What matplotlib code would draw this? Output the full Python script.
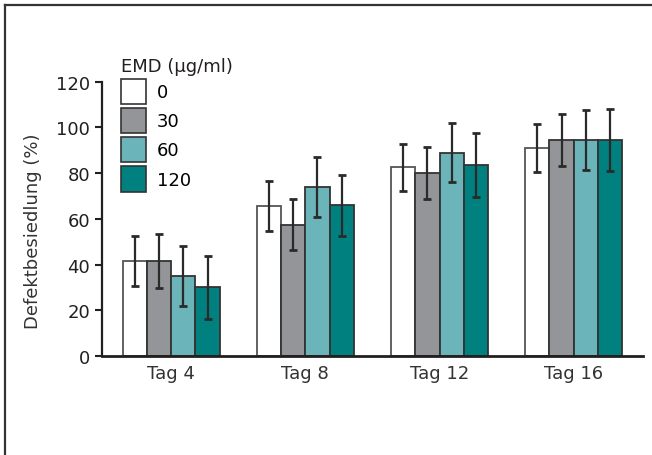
import matplotlib
matplotlib.use("Agg")
import matplotlib.pyplot as plt
from matplotlib.patches import Patch
from matplotlib.lines import Line2D
import numpy as np

days = ["Tag 4", "Tag 8", "Tag 12", "Tag 16"]
doses = ["0", "30", "60", "120"]

# mean defect colonisation (%) per dose, one list per dose
mean_0 = [41.5, 65.5, 82.5, 91.0]
mean_30 = [41.5, 57.5, 80.0, 94.5]
mean_60 = [35.0, 74.0, 89.0, 94.5]
mean_120 = [30.0, 66.0, 83.5, 94.5]

err_0 = [11.0, 11.0, 10.3, 10.3]
err_30 = [11.7, 11.3, 11.4, 11.3]
err_60 = [13.0, 13.0, 13.0, 13.0]
err_120 = [13.7, 13.4, 14.0, 13.4]

colors = ["#ffffff", "#939598", "#6ab4ba", "#00807f"]
edges = ["#555555", "#333333", "#333333", "#333333"]

plt.rcParams["font.family"] = "DejaVu Sans"
plt.rcParams["font.size"] = 13

fig = plt.figure(figsize=(6.52, 4.56), dpi=100)
ax = fig.add_axes([0.1564, 0.2171, 0.8296, 0.6015])

means = [mean_0, mean_30, mean_60, mean_120]
errs = [err_0, err_30, err_60, err_120]
x = np.arange(len(days))
width = 0.181
for i in range(len(doses)):
    pos = x + (i - 1.5) * width
    ax.bar(pos, means[i], width, color=colors[i], edgecolor=edges[i],
           linewidth=1.3, zorder=2)
    # capsize is half the cap length in matplotlib
    ax.errorbar(pos, means[i], yerr=errs[i], fmt="none", ecolor="#2a2a2a",
                elinewidth=1.6, capsize=3.2, capthick=2.0, zorder=3)

ax.set_xlim(-0.515, 3.515)
ax.set_ylim(0, 120)
ax.set_yticks(np.arange(0, 121, 20))
ax.set_xticks(x)
ax.set_xticklabels(days, color="#333333")
ax.tick_params(axis="x", length=0, pad=6)
ax.tick_params(axis="y", length=5, width=1.5, pad=3.5, colors="#231f20",
               labelcolor="#231f20")
for side in ["top", "right"]:
    ax.spines[side].set_visible(False)
ax.spines["left"].set_linewidth(1.6)
ax.spines["left"].set_color("#231f20")
ax.spines["bottom"].set_linewidth(2.0)
ax.spines["bottom"].set_color("#231f20")
fig.text(0.051, 0.493, "Defektbesiedlung (%)", rotation=90, ha="center",
         va="center", color="#333333")

handles = [Patch(facecolor=c, edgecolor="#333333", linewidth=1.2)
           for c in colors]
leg = ax.legend(handles, doses, title="EMD (µg/ml)", loc="upper left",
                bbox_to_anchor=(0.186, 0.873), bbox_transform=fig.transFigure,
                frameon=False, handlelength=1.36, handleheight=1.8,
                handletextpad=0.6, labelspacing=0.2, borderpad=0,
                borderaxespad=0)
leg._legend_box.align = "left"
leg.get_title().set_color("#231f20")

# outer frame (top and left edge of the box)
fig.add_artist(Line2D([0.008, 1.0], [0.987, 0.987], transform=fig.transFigure,
                      color="#333333", linewidth=1.6))
fig.add_artist(Line2D([0.008, 0.008], [0.0, 0.987], transform=fig.transFigure,
                      color="#333333", linewidth=1.6))

fig.savefig("out.png", dpi=100)
